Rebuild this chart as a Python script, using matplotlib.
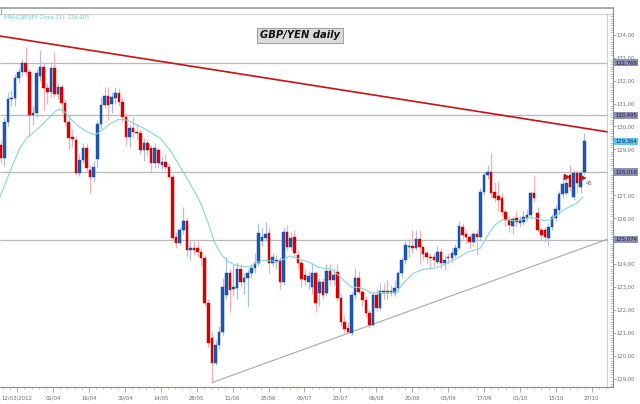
import matplotlib
matplotlib.use('Agg')
import matplotlib.pyplot as plt
from matplotlib.ticker import FixedLocator, MultipleLocator, FuncFormatter
from matplotlib.lines import Line2D
import numpy as np

# ---------------- data (GBP/JPY daily candles) ----------------
opens = [129.19,128.61,130.21,131.18,131.23,132.10,132.39,132.75,132.39,130.50,
         130.57,132.2,132.61,131.66,131.52,132.53,131.42,131.70,131.01,130.20,
         129.52,129.41,127.96,128.54,129.05,128.10,127.81,128.6,130.11,130.92,
         131.33,131.0,131.23,131.45,131.08,130.43,129.53,129.92,129.77,129.70,
         128.98,129.27,129.05,128.39,128.98,128.3,128.45,128.25,127.81,125.17,
         124.91,125.49,125.90,124.62,124.72,124.69,124.55,124.26,122.33,120.8,
         119.71,120.48,121.06,122.66,123.6,122.9,122.95,123.78,123.24,123.38,
         123.6,123.82,124.07,125.0,125.13,125.35,124.04,124.1,124.18,123.24,
         125.42,124.74,125.2,124.4,124.04,123.53,123.24,123.0,123.6,122.73,
         123.24,122.73,123.72,123.31,123.67,122.51,121.5,121.2,120.99,122.66,
         123.41,122.8,122.44,121.86,121.35,122.66,122.08,122.85,122.73,122.82,
         122.76,122.95,123.6,124.2,124.74,124.79,124.69,125.08,124.74,124.47,
         124.33,124.33,124.11,124.55,124.04,124.3,124.26,124.40,124.69,125.61,
         125.3,125.2,124.98,125.3,125.2,127.16,127.89,128.03,127.16,126.95,
         126.87,126.29,125.93,125.66,126.0,125.81,125.85,126.0,126.14,127.09,
         126.22,125.49,125.49,125.13,125.64,126.0,126.36,127.05,127.12,127.9,
         126.94,127.99,127.38,128.0]
closes = [128.61,130.21,131.20,131.25,132.10,132.39,132.75,132.39,130.50,130.60,
          132.32,132.61,131.66,131.52,132.53,131.42,131.70,131.01,130.20,129.50,
          129.46,127.96,128.54,129.05,128.18,127.81,128.25,130.11,130.92,131.33,
          130.94,131.30,131.45,131.08,130.43,129.53,129.92,129.77,129.70,128.98,
          129.27,128.98,128.39,129.05,128.39,128.45,128.25,127.81,125.13,124.91,
          125.49,125.90,124.62,124.72,124.62,124.55,124.26,122.33,120.58,119.71,
          120.48,121.06,123.02,123.6,122.88,123.0,123.78,123.24,123.38,123.6,
          123.82,124.07,125.35,125.2,125.32,124.04,124.33,124.2,123.24,125.42,
          124.76,125.13,124.47,124.04,123.34,123.31,123.5,123.63,122.29,123.24,
          122.66,123.72,123.31,123.53,122.51,121.5,121.16,121.06,122.66,123.41,
          122.8,122.44,121.86,121.35,122.66,122.08,122.85,122.75,122.82,122.76,
          122.95,123.6,124.2,124.84,124.79,124.69,125.08,124.74,124.44,124.33,
          124.26,124.18,124.55,124.04,124.2,124.25,124.47,124.69,125.66,125.27,
          125.2,124.98,125.3,125.17,127.16,127.89,128.03,127.09,126.87,126.8,
          126.29,125.93,125.71,125.95,125.85,125.93,126.07,126.14,127.09,126.87,
          125.49,125.27,125.2,125.64,126.07,126.39,127.05,127.5,127.52,127.38,
          127.99,127.52,127.99,129.364]
highs = [129.4,130.4,131.5,131.6,132.3,132.55,132.95,133.48,132.5,130.9,
         132.5,133.33,132.75,131.9,132.7,133.23,131.9,131.85,131.2,130.5,
         129.9,129.6,128.8,129.3,129.3,128.3,128.5,130.3,131.3,131.7,
         131.7,131.5,131.7,131.66,131.3,130.6,130.1,130.4,130.1,129.9,
         129.5,129.4,129.2,129.3,129.1,128.7,128.8,128.35,127.95,125.4,
         125.6,126.48,126.0,125.1,125.0,125.0,124.7,124.4,122.5,121.06,
         120.7,121.3,123.4,124.33,123.8,124.0,124.1,124.0,123.6,123.8,
         124.0,124.5,125.8,125.6,125.85,125.6,124.5,124.4,124.3,125.6,
         125.7,125.4,125.5,124.6,124.2,123.8,123.7,124.04,123.7,123.4,
         123.4,124.0,124.0,123.82,124.0,122.7,121.8,121.5,122.8,123.82,
         123.7,122.9,122.6,122.0,122.8,122.9,123.2,123.2,123.3,123.1,
         123.3,123.7,124.3,125.0,125.1,125.49,125.5,125.5,124.8,124.6,
         124.5,124.5,124.8,124.7,124.4,124.5,124.7,124.9,125.9,125.8,
         125.5,125.3,125.4,125.5,127.3,128.0,128.3,128.83,127.6,127.6,
         127.1,126.4,126.1,126.1,126.3,126.1,126.3,126.4,127.2,127.84,
         126.5,125.6,125.6,125.8,126.2,126.6,127.2,127.9,127.8,128.3,
         128.1,128.1,128.1,129.72]
lows = [128.4,128.29,130.0,130.9,130.9,131.9,132.2,132.2,129.6,130.06,
        130.4,132.0,130.7,131.0,131.3,131.3,131.2,130.6,130.0,129.0,
        129.1,127.9,127.85,128.4,128.0,127.12,127.6,128.2,129.9,130.8,
        130.3,130.6,131.0,130.9,130.2,129.2,129.1,129.5,129.4,128.8,
        128.5,128.7,127.96,128.2,128.2,128.1,128.1,127.7,124.95,124.7,
        124.85,125.3,124.3,124.2,124.4,124.3,123.9,122.2,120.4,118.85,
        119.6,120.3,120.9,122.5,121.93,122.6,122.5,123.0,122.7,122.15,
        123.4,123.6,123.9,124.8,125.0,123.6,123.9,123.8,122.9,123.1,
        124.6,124.6,124.3,123.8,123.0,123.1,122.9,122.7,121.9,122.2,
        122.5,122.6,123.1,123.1,122.4,121.3,121.0,120.95,120.9,122.5,
        122.7,122.2,121.7,121.2,121.3,121.9,122.0,122.5,122.5,122.6,
        122.6,122.8,123.4,124.0,124.3,124.5,124.6,124.0,124.2,124.0,
        123.8,123.9,124.0,123.8,123.75,124.0,124.1,124.3,124.6,125.1,
        124.9,124.7,124.8,124.4,125.0,127.0,127.7,126.9,126.7,126.3,
        126.1,125.6,125.4,125.3,125.6,125.6,125.7,125.9,126.0,126.7,
        125.4,125.05,124.95,124.79,125.5,125.9,126.2,126.9,127.0,127.2,
        126.8,127.1,127.1,127.95]

# EMA(21) line (candle index, value)
ema_idx = [-0.2,1.68,3.52,5.39,7.26,9.11,10.98,12.85,14.69,16.09,17.49,19.36,21.23,24.02,
           26.34,27.74,30.53,32.85,35.2,37.99,40.78,44.5,47.29,50.08,52.88,55.67,57.99,
           59.86,61.73,63.58,65.45,67.77,69.64,71.51,73.35,75.22,77.09,78.94,80.81,83.6,
           86.4,88.72,90.59,92.46,94.3,96.17,98.04,99.89,101.76,103.63,105.47,108.74,
           110.61,112.46,115.25,118.04,120.84,123.63,126.42,128.3,130.61,132.49,133.88,
           135.28,136.68,138.07,139.94,141.79,143.66,145.53,147.37,149.72,151.56,153.44,
           155.31,157.15,159.02,160.89,162.57]
ema_val = [126.94,127.67,128.40,129.06,129.50,129.72,129.99,130.28,130.57,130.75,130.69,
           130.36,130.07,129.77,129.63,129.77,130.11,130.31,130.28,130.07,129.85,129.49,
           128.98,128.25,127.52,126.72,125.78,124.91,124.40,124.11,123.97,123.89,123.89,
           124.07,124.18,124.15,124.11,124.21,124.36,124.21,124.07,123.86,123.82,123.78,
           123.53,123.24,122.99,122.99,122.91,122.73,122.76,122.76,122.80,123.17,123.60,
           123.78,123.82,123.97,124.18,124.33,124.54,124.62,124.69,125.05,125.42,125.71,
           125.93,125.93,125.88,125.93,126.03,126.00,125.90,125.93,126.14,126.36,126.51,
           126.65,126.92]

# trend lines (candle index, price)
resist_idx = [-0.2, 169.3]
resist_val = [133.94, 129.77]
support_idx = [59, 169.3]
support_val = [118.84, 125.08]

levels = [132.769, 130.495, 128.018, 125.074]
level_labels = ['132,769', '130,495', '128,018', '125,074']
last_price = 129.364
last_label = '129,364'

date_labels = ['12/03/2012', '02/04', '16/04', '30/04', '14/05', '28/05', '11/06', '25/06',
               '09/07', '23/07', '06/08', '20/08', '03/09', '17/09', '01/10', '15/10', '27/10']
price_ticks = list(range(119, 135))
hidden_ticks = [125, 128]   # covered by the level boxes in the original

# ---------------- figure ----------------
W, H = 640, 404
fig = plt.figure(figsize=(W / 100, H / 100), dpi=100)
fig.patch.set_facecolor('white')
ax = fig.add_axes([0, (H - 387) / H, 613 / W, (387 - 14) / H])
ax.set_xlim(-0.196, 171.03)
ax.set_ylim(118.65, 134.90)

o = np.array(opens); c = np.array(closes); hi = np.array(highs); lo = np.array(lows)
idx = np.arange(len(o))
up = c >= o
wick_cols = np.where(up, '#a9c0e2', '#f0b2b2')
body_cols = np.where(up, '#1c58bc', '#e00000')
edge_cols = np.where(up, '#0c3c90', '#b80000')

# horizontal levels
ax.hlines(levels, -0.196, 169.3, colors='#b8b8b8', lw=0.9, zorder=1)

ax.vlines(idx, lo, hi, colors=wick_cols, lw=0.9, zorder=2)
ax.bar(idx, np.maximum(np.abs(c - o), 0.045), bottom=np.minimum(o, c), width=0.72,
       color=body_cols, edgecolor=edge_cols, lw=0.3, zorder=3)

ax.plot(ema_idx, ema_val, color='#86d6d6', lw=0.8, zorder=4)
ax.plot(resist_idx, resist_val, color='#cc1010', lw=1.2, zorder=5)
ax.plot(support_idx, support_val, color='#a8a8a8', lw=0.8, zorder=1.5)

# inner frame right border
ax.axvline(169.3, color='#cfcfcf', lw=0.8, zorder=0.5)

# arrows and small text near last candles
ax.plot([158.3, 162.6], [127.80, 127.75], ls='none', marker='>', ms=4.2,
        color='#e01010', mec='#7a0000', mew=0.3, zorder=6)
ax.text(163.3, 127.52, '45', fontsize=3.9, color='#606060', va='center', ha='left', zorder=6)

# ---------------- axes styling ----------------
ax.spines['left'].set_visible(False)
ax.spines['top'].set_color('#cccccc')
ax.spines['top'].set_linewidth(0.8)
ax.spines['bottom'].set_color('#8c8c8c')
ax.spines['bottom'].set_linewidth(0.8)
ax.spines['right'].set_color('#8c8c8c')
ax.spines['right'].set_linewidth(0.8)


def price_fmt(v, p):
    if int(round(v)) in hidden_ticks:
        return ''
    return f"{v:.2f}".replace('.', ',')


ax.yaxis.set_ticks_position('right')
ax.yaxis.set_major_locator(FixedLocator(price_ticks))
ax.yaxis.set_minor_locator(MultipleLocator(0.1))
ax.yaxis.set_major_formatter(FuncFormatter(price_fmt))
ax.tick_params(axis='y', which='major', direction='out', length=1.8, width=0.5,
               color='#8c8c8c', labelsize=3.8, labelcolor='#6a6a88', pad=0.8)
ax.tick_params(axis='y', which='minor', direction='in', length=2.0, width=0.4,
               color='#9a9a9a')

xt = [4.6 + 10.03 * k for k in range(len(date_labels))]
ax.xaxis.set_major_locator(FixedLocator(xt))
ax.xaxis.set_minor_locator(FixedLocator(list(np.arange(4.6 - 10.03, 171, 10.03 / 5))))
ax.set_xticklabels(date_labels)
ax.tick_params(axis='x', which='major', direction='out', length=3.3, width=0.5,
               color='#8c8c8c', labelsize=3.9, labelcolor='#6a6a7a', pad=2.8)
ax.tick_params(axis='x', which='minor', direction='out', length=1.6, width=0.4,
               color='#9a9a9a')

# level label boxes on right axis
ytr = ax.get_yaxis_transform()
for lv, lb in zip(levels, level_labels):
    ax.text(1.0035, lv, lb, transform=ytr, fontsize=3.8, color='#1e1e48', va='center',
            ha='left', zorder=10, clip_on=False,
            bbox=dict(boxstyle='square,pad=0.2', facecolor='#8e8eb2', edgecolor='none'))
ax.text(1.0035, last_price, last_label, transform=ytr, fontsize=3.8, color='#1e1e48',
        va='center', ha='left', zorder=10, clip_on=False,
        bbox=dict(boxstyle='square,pad=0.2', facecolor='#5ec8f2', edgecolor='none'))

# header strip above plot
fig.add_artist(Line2D([0, 613 / W], [1 - 8.3 / H] * 2, color='#a8a8a8', lw=1.4))
fig.add_artist(Line2D([0.6 / W] * 2, [1 - 8.3 / H, 1 - 14 / H], color='#a8a8a8', lw=0.8))
fig.add_artist(Line2D([613 / W] * 2, [1 - 8.3 / H, 1 - 14 / H], color='#8c8c8c', lw=0.8))

# legend & title
fig.text(4 / W, 1 - 17.6 / H, 'EMA(GBP/JPY,Close,21): 126,905', fontsize=3.8,
         color='#6ccaca', va='center', ha='left')
fig.text(300 / W, 1 - 35.5 / H, 'GBP/YEN daily', fontsize=7.2, fontweight='bold',
         fontstyle='italic', color='#111111', ha='center', va='center',
         bbox=dict(boxstyle='square,pad=0.28', facecolor='#dadada', edgecolor='#909090', lw=0.6))

fig.savefig('out.png', dpi=100, facecolor='white')
